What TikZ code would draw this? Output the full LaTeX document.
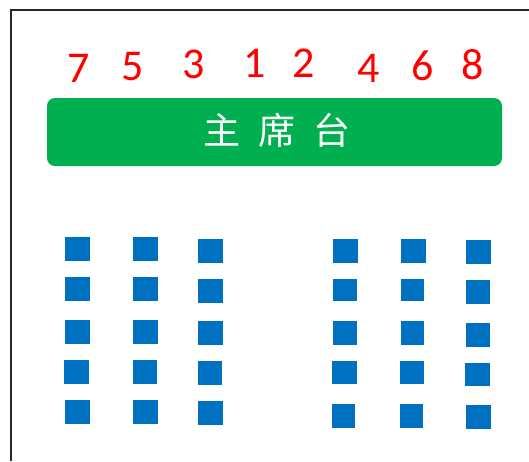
\documentclass[tikz,border=0pt]{standalone}
\usepackage{fontspec}
\newfontfamily\digitfont{Carlito}
\newfontfamily\cjkfont{Noto Sans CJK SC}
\definecolor{seatblue}{HTML}{0070C0}
\definecolor{stagegreen}{HTML}{00B050}
\definecolor{numred}{HTML}{FF0000}
\begin{document}
\begin{tikzpicture}[x=1pt,y=-1pt,
  seat/.style={fill=seatblue},
  num/.style={inner sep=0pt,anchor=base,text=numred,font=\digitfont\fontsize{44}{44}\selectfont},
  title/.style={inner sep=0pt,text=white,font=\cjkfont\fontsize{37}{37}\selectfont}]
\useasboundingbox (0,0) rectangle (529,461);
\fill[white] (0,0) rectangle (529,461);
% frame
\draw[line width=2pt,black!85] (10.5,461) -- (10.5,9.5) -- (529,9.5);
% stage
\node[draw=none,fill=stagegreen,rounded corners=8pt,minimum width=455pt,minimum height=68pt,inner sep=0pt] (stage) at (274.5,132) {};
\node[title] (t1) at (222,130) {主};
\node[title] (t2) at (277,130) {席};
\node[title] (t3) at (332,130) {台};
% numbers
\node[num] (n7) at (78.5,82) {7};
\node[num] (n5) at (132.5,80) {5};
\node[num] (n3) at (193.5,78) {3};
\node[num] (n1) at (254.5,77) {1};
\node[num] (n2) at (304,77) {2};
\node[num] (n4) at (368.5,82) {4};
\node[num] (n6) at (422.5,80) {6};
\node[num] (n8) at (472.5,79) {8};
% seats left
\fill[seat] (65.3,237.3) rectangle (90.3,261.3);
\fill[seat] (65.3,277.3) rectangle (90.3,301.3);
\fill[seat] (65.3,319.7) rectangle (90.3,343.7);
\fill[seat] (64,359.7) rectangle (89,383.7);
\fill[seat] (65.3,399.7) rectangle (90.3,423.7);
\fill[seat] (133.3,237.3) rectangle (158.3,261.3);
\fill[seat] (133.3,277.3) rectangle (158.3,301.3);
\fill[seat] (133.3,319.7) rectangle (158.3,343.7);
\fill[seat] (133.3,359.7) rectangle (156.7,383.7);
\fill[seat] (133.3,399.7) rectangle (158.3,423.7);
\fill[seat] (198.3,238.7) rectangle (223.3,262.7);
\fill[seat] (198.3,278.7) rectangle (223.3,302.7);
\fill[seat] (198.3,321.3) rectangle (223.3,345.3);
\fill[seat] (198.3,361.3) rectangle (222.3,385.3);
\fill[seat] (198.3,401) rectangle (223.3,425);
% seats right
\fill[seat] (333,238.7) rectangle (357.7,262.7);
\fill[seat] (333,278.7) rectangle (356.7,301.3);
\fill[seat] (333,321.3) rectangle (356.7,345.3);
\fill[seat] (331.7,361.3) rectangle (356.7,383.7);
\fill[seat] (331.7,403.7) rectangle (355.3,427.7);
\fill[seat] (401,238.7) rectangle (425.7,262.7);
\fill[seat] (401,278.7) rectangle (424.3,301.3);
\fill[seat] (401,321.3) rectangle (424.3,345.3);
\fill[seat] (399.7,361.3) rectangle (424.3,383.7);
\fill[seat] (399.7,403.7) rectangle (423,427.7);
\fill[seat] (466.3,240.3) rectangle (491,264.3);
\fill[seat] (466.3,280.3) rectangle (489.7,303.7);
\fill[seat] (466.3,322.7) rectangle (489.7,346.7);
\fill[seat] (465,362.7) rectangle (489.7,386.3);
\fill[seat] (466.3,405) rectangle (491,429);
\end{tikzpicture}
\end{document}
